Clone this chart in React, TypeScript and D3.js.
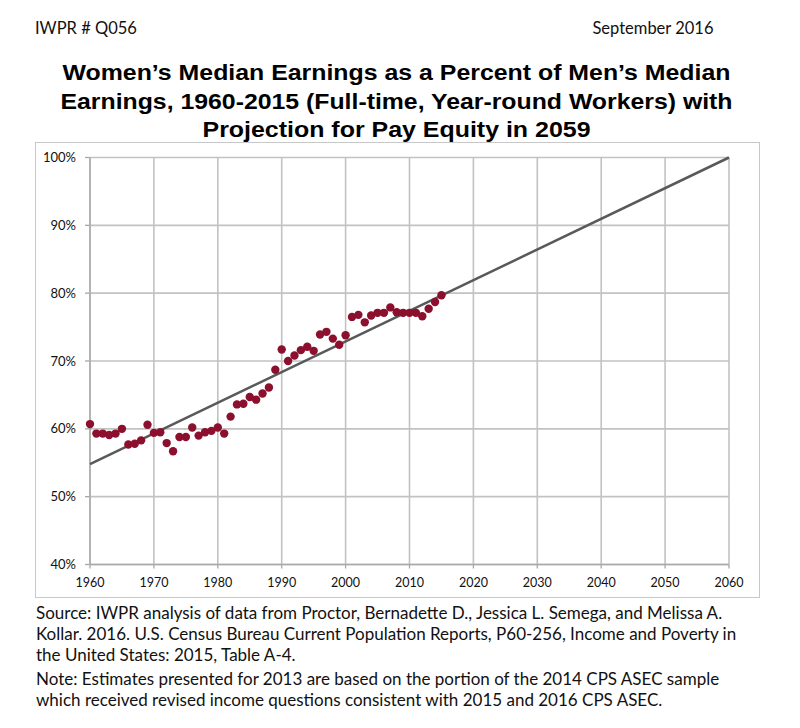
import React from "react";
import * as d3 from "d3";

const years: number[] = d3.range(1960, 2016);
const ratios: number[] = [
  60.7, 59.3, 59.3, 59.1, 59.3, 60.0, 57.7, 57.8, 58.3, 60.6,
  59.4, 59.5, 57.9, 56.7, 58.8, 58.8, 60.2, 59.0, 59.5, 59.7,
  60.2, 59.3, 61.8, 63.6, 63.7, 64.7, 64.3, 65.2, 66.1, 68.7,
  71.7, 70.0, 70.8, 71.6, 72.1, 71.5, 73.9, 74.3, 73.3, 72.4,
  73.8, 76.5, 76.8, 75.7, 76.7, 77.1, 77.1, 77.9, 77.2, 77.1,
  77.1, 77.1, 76.6, 77.7, 78.7, 79.7,
];
const trendYears: number[] = [1960, 2060];
const trendValues: number[] = [54.8, 100];
const xTicks: number[] = d3.range(1960, 2061, 10);
const yTicks: number[] = [40, 50, 60, 70, 80, 90, 100];

const titleLines: string[] = [
  "Women\u2019s Median Earnings as a Percent of Men\u2019s Median",
  "Earnings, 1960-2015 (Full-time, Year-round Workers) with",
  "Projection for Pay Equity in 2059",
];
const titleWidths: number[] = [668, 672, 388];
const sourceLines: string[] = [
  "Source: IWPR analysis of data from Proctor, Bernadette D., Jessica L. Semega, and Melissa A.",
  "Kollar. 2016. U.S. Census Bureau Current Population Reports, P60-256, Income and Poverty in",
  "the United States: 2015, Table A-4.",
];
const noteLines: string[] = [
  "Note: Estimates presented for 2013 are based on the portion of the 2014 CPS ASEC sample",
  "which received revised income questions consistent with 2015 and 2016 CPS ASEC.",
];

export default function App() {
  const x = d3.scaleLinear().domain([1960, 2060]).range([90, 729]);
  const y = d3.scaleLinear().domain([40, 100]).range([564.5, 157.5]);
  const line = d3
    .line<number>()
    .x((_, i) => x(trendYears[i]))
    .y((d) => y(d));
  const bodyFont = "Lato, 'Open Sans', sans-serif";
  const grid = "#c2c2c2";
  return (
    <svg
      width={800}
      height={728}
      style={{ position: "absolute", left: 0, top: 0, background: "#fff" }}
    >
      <rect width={800} height={728} fill="#fff" />
      <text x={35} y={34} fontFamily={bodyFont} fontSize={16.5} fill="#111">
        IWPR # Q056
      </text>
      <text x={713.5} y={34} textAnchor="end" fontFamily={bodyFont} fontSize={16.5} fill="#111">
        September 2016
      </text>
      {titleLines.map((t, i) => (
        <text
          key={i}
          x={396.5}
          y={80 + i * 28.5}
          textAnchor="middle"
          fontFamily="'Liberation Sans', Arial, sans-serif"
          fontWeight="bold"
          fontSize={21.5}
          textLength={titleWidths[i]}
          lengthAdjust="spacingAndGlyphs"
          fill="#000"
        >
          {t}
        </text>
      ))}
      <rect x={35.5} y={142.5} width={724} height={455} fill="none" stroke="#c8c8c8" strokeWidth={1} />
      {yTicks.map((v) => (
        <g key={"y" + v}>
          <line x1={x(1960)} x2={x(2060)} y1={y(v)} y2={y(v)} stroke={grid} strokeWidth={1.6} />
          <line x1={x(1960) - 5} x2={x(1960)} y1={y(v)} y2={y(v)} stroke="#a8a8a8" strokeWidth={1.3} />
          <text
            x={x(1960) - 14}
            y={y(v) + 4.5}
            textAnchor="end"
            fontFamily={bodyFont}
            fontSize={13}
            fill="#111"
          >
            {v + "%"}
          </text>
        </g>
      ))}
      {xTicks.map((v) => (
        <g key={"x" + v}>
          <line x1={x(v)} x2={x(v)} y1={y(100)} y2={y(40)} stroke={grid} strokeWidth={1.6} />
          <line x1={x(v)} x2={x(v)} y1={y(40)} y2={y(40) + 4} stroke="#a8a8a8" strokeWidth={1.3} />
          <text
            x={x(v)}
            y={y(40) + 22.5}
            textAnchor="middle"
            fontFamily={bodyFont}
            fontSize={12.5}
            fill="#111"
          >
            {v}
          </text>
        </g>
      ))}
      <line x1={x(1960)} x2={x(1960)} y1={y(100)} y2={y(40)} stroke="#a8a8a8" strokeWidth={1.4} />
      <line x1={x(1960)} x2={x(2060)} y1={y(40)} y2={y(40)} stroke="#a8a8a8" strokeWidth={1.4} />
      <path d={line(trendValues) || ""} fill="none" stroke="#595959" strokeWidth={2.5} />
      {ratios.map((r, i) => (
        <circle key={i} cx={x(years[i])} cy={y(r)} r={4.2} fill="#8c0f2e" />
      ))}
      {sourceLines.map((t, i) => (
        <text key={"s" + i} x={36} y={618.5 + i * 21} fontFamily={bodyFont} fontSize={17} fill="#111">
          {t}
        </text>
      ))}
      {noteLines.map((t, i) => (
        <text key={"n" + i} x={36} y={685 + i * 21} fontFamily={bodyFont} fontSize={17} fill="#111">
          {t}
        </text>
      ))}
    </svg>
  );
}
